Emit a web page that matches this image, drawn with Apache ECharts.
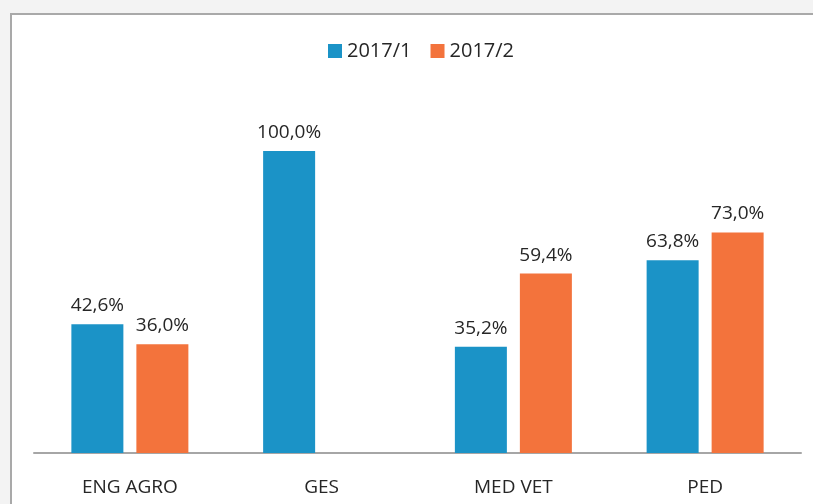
<!DOCTYPE html>
<html>
<head>
<meta charset="utf-8">
<script src="https://cdn.jsdelivr.net/npm/echarts@6/dist/echarts.min.js"></script>
<style>
  html, body { margin: 0; padding: 0; background: #f3f3f3; }
  #chart { width: 813px; height: 504px; }
</style>
</head>
<body>
<div id="chart"></div>
<script>
const categories = ['ENG AGRO', 'GES', 'MED VET', 'PED'];
const seriesNames = ['2017/1', '2017/2'];
const sem1 = [42.6, 100.0, 35.2, 63.8];
const sem2 = [36.0, null, 59.4, 73.0];
const colors = ['#1b93c7', '#f3733c'];

const fmt = p => p.value == null ? '' : p.value.toFixed(1).replace('.', ',') + '%';
const font = '"Open Sans", "Noto Sans", sans-serif';

const myChart = echarts.init(document.getElementById('chart'));
const makeSeries = (name, data, color) => ({
  name: name,
  type: 'bar',
  data: data,
  barWidth: 52,
  barGap: '25%',
  itemStyle: { color: color },
  label: {
    show: true,
    position: 'top',
    distance: 9,
    formatter: fmt,
    color: '#262626',
    fontSize: 19,
    fontFamily: font
  }
});

myChart.setOption({
  animation: false,
  backgroundColor: '#f3f3f3',
  graphic: [{
    type: 'rect',
    z: -10,
    shape: { x: 11, y: 14, width: 820, height: 500 },
    style: { fill: '#ffffff', stroke: '#a9a9a9', lineWidth: 2 }
  }],
  legend: {
    top: 36,
    left: 323,
    itemWidth: 14,
    itemHeight: 14,
    itemGap: 19,
    icon: 'rect',
    textStyle: { fontSize: 20, color: '#262626', fontFamily: font },
    data: seriesNames
  },
  grid: { left: 34, right: 12, top: 151, bottom: 51, containLabel: false },
  xAxis: {
    type: 'category',
    data: categories,
    axisLine: { lineStyle: { color: '#a6a6a6', width: 2 } },
    axisTick: { show: false },
    axisLabel: { fontSize: 19, color: '#262626', margin: 25, fontFamily: font }
  },
  yAxis: {
    type: 'value',
    min: 0,
    max: 100,
    show: false,
    splitLine: { show: false }
  },
  series: [
    makeSeries(seriesNames[0], sem1, colors[0]),
    makeSeries(seriesNames[1], sem2, colors[1])
  ]
});
</script>
</body>
</html>
